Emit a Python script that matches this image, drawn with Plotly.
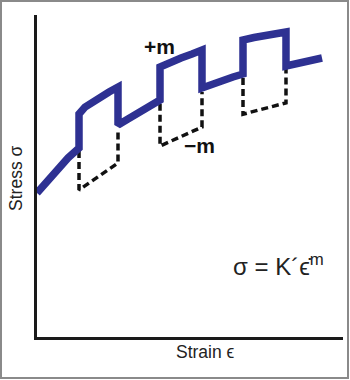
import plotly.graph_objects as go

# Main stress-strain curve with strain-rate jumps (arbitrary units 0-100)
strain = [0, 3.27, 6.86, 10.13, 13.73,
          13.73, 15.69, 17.97, 20.59, 23.53, 26.47,
          26.47, 29.74, 33.33, 36.93, 40.20,
          40.20, 43.46, 47.06, 50.65, 53.92,
          53.92, 57.19, 60.78, 64.05, 67.32,
          67.32, 70.92, 74.51, 78.10, 81.37,
          81.37, 84.97, 89.22, 93.14]
stress = [44.72, 48.45, 52.17, 55.59, 58.70,
          69.25, 71.43, 72.98, 74.53, 76.09, 77.64,
          65.84, 67.70, 69.72, 71.74, 73.60,
          83.85, 85.40, 86.65, 87.89, 89.13,
          77.33, 78.57, 79.66, 80.75, 81.68,
          92.24, 93.01, 93.63, 94.25, 94.72,
          84.16, 85.09, 85.87, 86.65]

# Dashed rate-drop (-m) paths
drop_strain = [13.73, 13.73, 26.47, 26.47, None, 40.2, 40.2, 53.92, 53.92, None, 67.32, 67.32, 81.37, 81.37]
drop_stress = [57.76, 45.65, 54.04, 64.29, None, 72.4, 59.3, 65.2, 76.1, None, 80.4, 69.2, 72.7, 83.2]

x_title = "Strain \u03f5"
y_title = "Stress \u03c3"
formula = "\u03c3 = K\u00b4\u03f5\u0307<sup>m</sup>"

REG = "Liberation Sans, Arial, sans-serif"

fig = go.Figure()
fig.add_trace(go.Scatter(x=drop_strain, y=drop_stress, mode="lines",
                         line=dict(color="#111111", width=3.5, dash="7px,4px"),
                         hoverinfo="skip", showlegend=False))
fig.add_trace(go.Scatter(x=strain, y=stress, mode="lines",
                         line=dict(color="#2E3192", width=7.5),
                         hoverinfo="skip", showlegend=False))

fig.update_xaxes(range=[0, 100], showline=True, linewidth=3, linecolor="#1a1a1a",
                 showgrid=False, zeroline=False, showticklabels=False, ticks="")
fig.update_yaxes(range=[0, 100], showline=True, linewidth=3, linecolor="#1a1a1a",
                 showgrid=False, zeroline=False, showticklabels=False, ticks="")

anns = [
    dict(xref="x", yref="y", x=39.9, y=90.1, text="<b>+m</b>",
         font=dict(family=REG, size=21, color="#111")),
    dict(xref="x", yref="y", x=53.2, y=59.6, text="<b>\u2212m</b>",
         font=dict(family=REG, size=21, color="#111")),
    dict(xref="x", yref="y", x=78.8, y=22.4, text=formula,
         font=dict(family=REG, size=24, color="#222")),
    dict(xref="x", yref="paper", x=55.2, y=-15 / 322, text=x_title,
         font=dict(family=REG, size=17.5, color="#222")),
    dict(xref="paper", yref="y", x=-21 / 306, y=49.4, text=y_title, textangle=-90,
         font=dict(family=REG, size=17.5, color="#222")),
]
for a in anns:
    fig.add_annotation(showarrow=False, xanchor="center", yanchor="middle", **a)

# Gray frame around the whole graphic
fig.add_shape(type="rect", xref="paper", yref="paper",
              x0=(1 - 37) / 306, x1=(348 - 37) / 306,
              y0=(337 - 378) / 322, y1=(337 - 1) / 322,
              line=dict(color="#8a8a8a", width=2), layer="above")

fig.update_layout(width=350, height=380, margin=dict(l=37, r=7, t=15, b=43),
                  paper_bgcolor="white", plot_bgcolor="white")

fig.write_html("out.html")
